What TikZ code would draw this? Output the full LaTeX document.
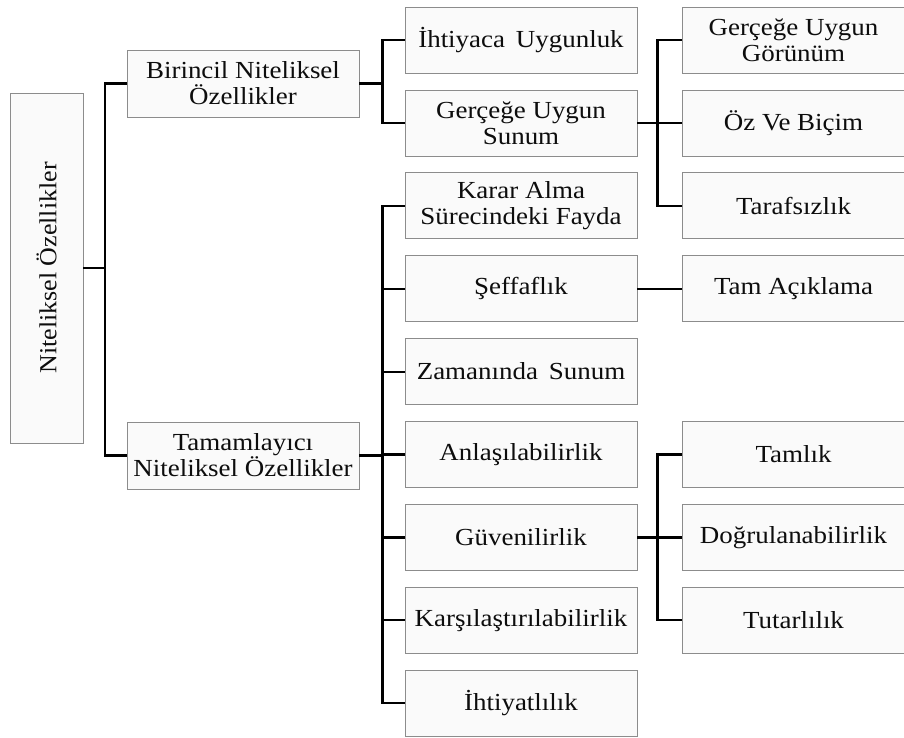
\documentclass[tikz,border=0pt]{standalone}
\usepackage{fontspec}
\setmainfont{Liberation Serif}[FakeStretch=1.10]
\newfontfamily\rootfont{Liberation Serif}[FakeStretch=1.06]
\begin{document}
\begin{tikzpicture}[x=1pt,y=-1pt,
  box/.style={draw=black!45, line width=0.7pt, fill=black!2, inner sep=0pt,
    align=center, text=black!95, font=\fontsize{24.5}{26}\selectfont},
  colA/.style={box, minimum width=232pt, minimum height=67pt},
  colB/.style={box, minimum width=232pt, minimum height=66pt},
  colC/.style={box, minimum width=223pt, minimum height=66pt},
  link/.style={draw=black, line width=2.2pt}]
\useasboundingbox (0,0) rectangle (904,738);

% root
\node[box, minimum width=73pt, minimum height=350pt] (root) at (46.5,268) {};
\node[rotate=90, text=black!95, font=\rootfont\fontsize{24.5}{26}\selectfont] (rootlabel) at (root.center) {Niteliksel Özellikler};

% first level
\node[colA] (bir) at (243,83.5) {Birincil Niteliksel\\Özellikler};
\node[colA] (tam) at (243,455.5) {Tamamlayıcı\\Niteliksel Özellikler};

% second level
\node[colB] (iht) at (521,40) {İhtiyaca\, Uygunluk};
\node[colB] (gus) at (521,122.9) {Gerçeğe Uygun\\Sunum};
\node[colB] (kar) at (521,205.8) {Karar Alma\\Sürecindeki Fayda};
\node[colB] (sef) at (521,288.7) {Şeffaflık};
\node[colB] (zam) at (521,371.6) {Zamanında\, Sunum};
\node[colB] (anl) at (521,454.5) {Anlaşılabilirlik};
\node[colB] (guv) at (521,537.4) {Güvenilirlik};
\node[colB] (kst) at (521,620.3) {Karşılaştırılabilirlik};
\node[colB] (ity) at (521,703.2) {İhtiyatlılık};

% third level
\node[colC] (gug) at (793.5,40) {Gerçeğe Uygun\\Görünüm};
\node[colC] (ozb) at (793.5,122.9) {Öz Ve Biçim};
\node[colC] (trf) at (793.5,205.8) {Tarafsızlık};
\node[colC] (tac) at (793.5,288.7) {Tam Açıklama};
\node[colC] (tml) at (793.5,454.5) {Tamlık};
\node[colC] (dgr) at (793.5,537.4) {Doğrulanabilirlik};
\node[colC] (ttr) at (793.5,620.3) {Tutarlılık};

% junction points
\coordinate (j0) at (105,268);
\coordinate (j1) at (382.5,83.5);
\coordinate (j2) at (382.5,455.5);
\coordinate (j3) at (657.5,122.9);
\coordinate (j4) at (657.5,537.4);

% connectors
\draw[link] (root.east) -- (j0);
\draw[link] (bir.west) -| (j0) |- (tam.west);

\draw[link] (bir.east) -- (j1);
\draw[link] (iht.west) -| (j1) |- (gus.west);

\draw[link] (tam.east) -- (j2);
\draw[link] (kar.west) -| (j2) |- (ity.west);
\foreach \n in {sef,zam,anl,guv,kst}
  \draw[link] (\n.west) -- (\n.west -| j2);

\draw[link] (gus.east) -- (j3);
\draw[link] (gug.west) -| (j3) |- (trf.west);
\draw[link] (ozb.west) -- (j3);

\draw[link] (sef.east) -- (tac.west);

\draw[link] (guv.east) -- (j4);
\draw[link] (tml.west) -| (j4) |- (ttr.west);
\draw[link] (dgr.west) -- (j4);
\end{tikzpicture}
\end{document}
